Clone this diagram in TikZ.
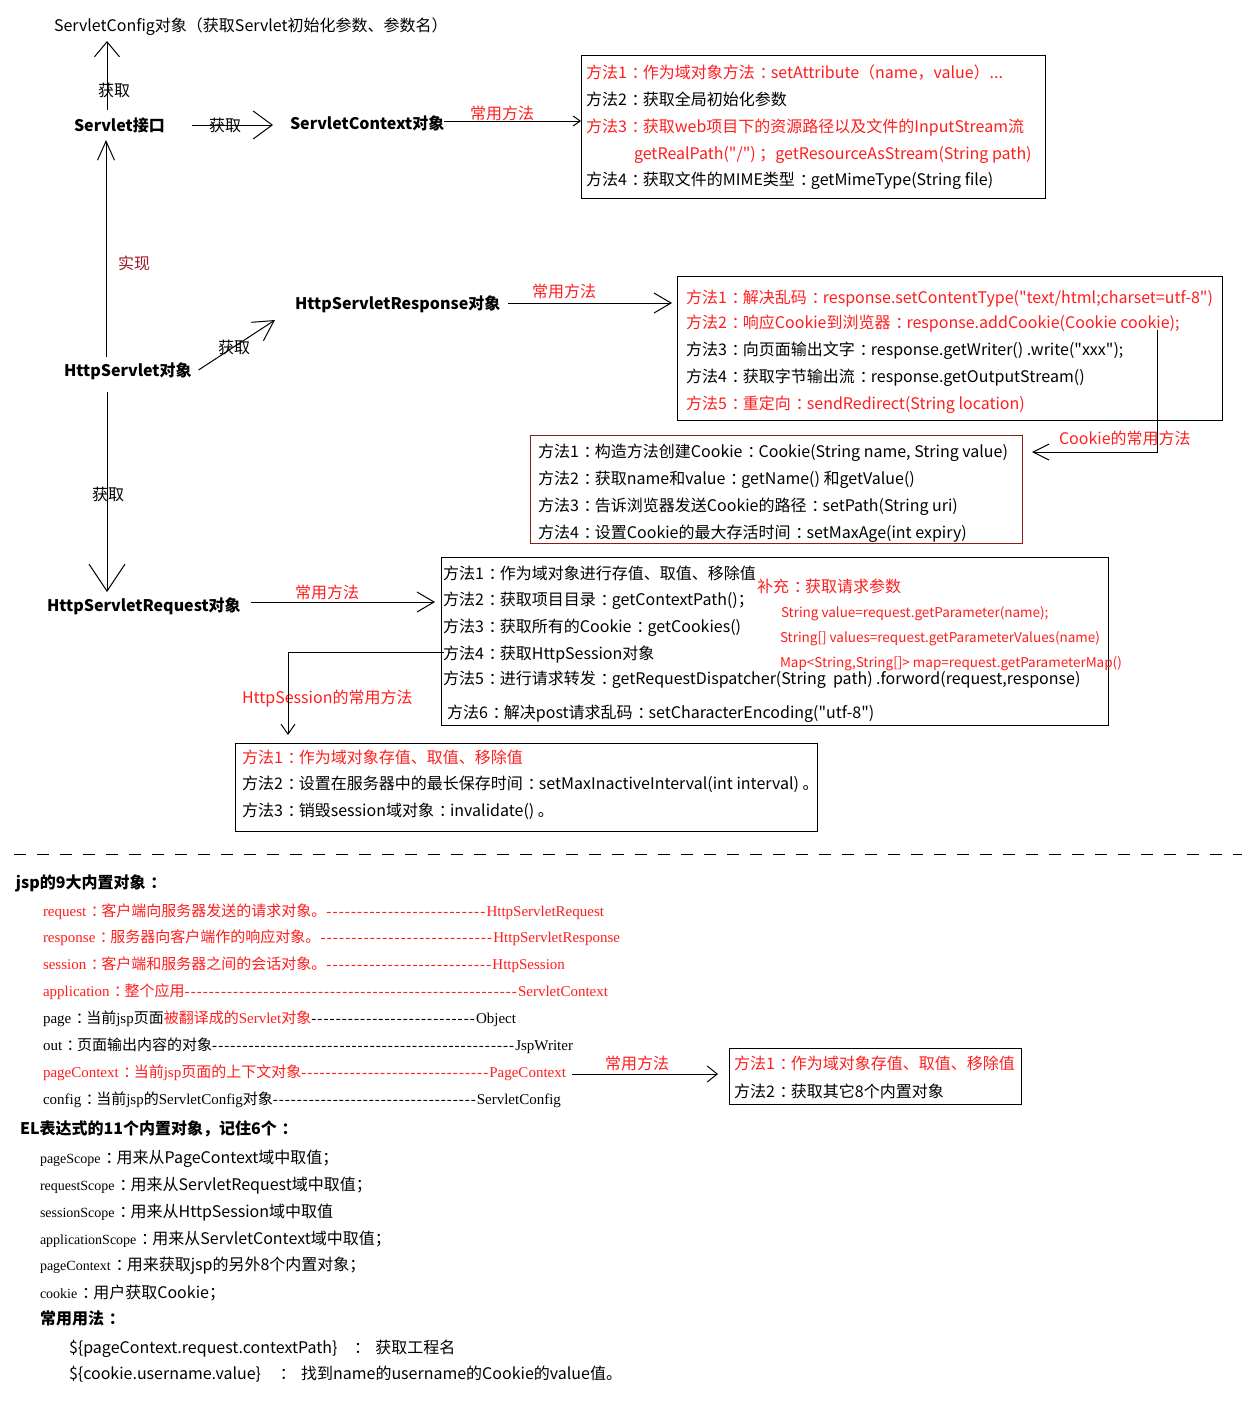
\documentclass[tikz,border=0pt]{standalone}
\usepackage{fontspec}
\setmainfont{Noto Sans CJK SC}[Ligatures=TeXOff]
\newfontfamily\tnr{Liberation Serif}
\usetikzlibrary{arrows.meta,calc}
\definecolor{rd}{HTML}{FF1E1E}
\definecolor{mr}{HTML}{9B1B25}
\definecolor{bx}{HTML}{8B1A1A}
\newcommand\fsz[1]{\fontsize{#1pt}{#1pt}\selectfont}
\newcommand\dashfill{\xleaders\hbox{\tnr -\kern1pt}\hfill}
\newcommand\fwcolon{\makebox[1em][l]{\hspace{0.3em}\char"FF1A\relax}}
\catcode`：=\active
\protected\def：{\fwcolon}
\tikzset{
  ln/.style={line width=1pt, draw=black},
  barb/.style 2 args={-{Straight Barb[length=#1,width=#2]}},
  tx/.style={anchor=west, inner sep=0pt, outer sep=0pt},
  t16/.style={tx, font=\fsz{16}, text height=14.1pt, text depth=1.9pt},
  t15/.style={tx, font=\fsz{15}, text height=13.2pt, text depth=1.8pt},
  t13/.style={tx, font=\fsz{13.5}, text height=11.9pt, text depth=1.6pt},
  b16/.style={t16, font=\fsz{16}\bfseries},
  box/.style={draw, line width=1pt, inner sep=0pt, outer sep=0pt, anchor=north west},
}
\begin{document}
\begin{tikzpicture}[x=1pt,y=-1pt]
\fill[white] (0,0) rectangle (1242,1401);
\useasboundingbox (0,0) rectangle (1242,1401);

% ---------- top part ----------
\node[t16] (cfg) at (54,25) {ServletConfig对象（获取Servlet初始化参数、参数名）};
\node[b16] (sv) at (74,125) {Servlet接口};
\node[t16] (g1) at (98,90) {获取};
\node[t16] (g2) at (209,125) {获取};
\node[b16] (ctx) at (290,123) {ServletContext对象};
\node[t16, rd] (cy1) at (470,113) {常用方法};

\node[box, minimum width=464pt, minimum height=143pt] (b1) at (581,55) {};
\node[t16, rd] (b1a) at (586,72) {方法1：作为域对象方法：setAttribute（name，value）...};
\node[t16] (b1b) at (586,99) {方法2：获取全局初始化参数};
\node[t16, rd] (b1c) at (586,126) {方法3：获取web项目下的资源路径以及文件的InputStream流};
\node[t16, rd] (b1d) at (634,153) {getRealPath("/") ；getResourceAsStream(String path)};
\node[t16] (b1e) at (586,179) {方法4：获取文件的MIME类型：getMimeType(String file)};

\node[t16, mr] (sx) at (118,263) {实现};
\node[b16] (hs) at (64,370) {HttpServlet对象};
\node[t16] (g3) at (218,347) {获取};
\node[b16] (resp) at (295,303) {HttpServletResponse对象};
\node[t16, rd] (cy2) at (532,291) {常用方法};

\node[box, minimum width=545pt, minimum height=144pt] (b2) at (677,276) {};
\node[t16, rd] (b2a) at (686,297) {方法1：解决乱码：response.setContentType("text/html;charset=utf-8")};
\node[t16, rd] (b2b) at (686,322) {方法2：响应Cookie到浏览器：response.addCookie(Cookie cookie);};
\node[t16] (b2c) at (686,349) {方法3：向页面输出文字：response.getWriter() .write("xxx");};
\node[t16] (b2d) at (686,376) {方法4：获取字节输出流：response.getOutputStream()};
\node[t16, rd] (b2e) at (686,403) {方法5：重定向：sendRedirect(String location)};

\node[t16, rd] (ck) at (1059,438) {Cookie的常用方法};
\node[box, draw=bx, minimum width=492pt, minimum height=108pt] (b3) at (530,435) {};
\node[t16] (b3a) at (538,451) {方法1：构造方法创建Cookie：Cookie(String name, String value)};
\node[t16] (b3b) at (538,478) {方法2：获取name和value：getName() 和getValue()};
\node[t16] (b3c) at (538,505) {方法3：告诉浏览器发送Cookie的路径：setPath(String uri)};
\node[t16] (b3d) at (538,532) {方法4：设置Cookie的最大存活时间：setMaxAge(int expiry)};

\node[t16] (g4) at (92,494) {获取};
\node[b16] (req) at (47,605) {HttpServletRequest对象};
\node[t16, rd] (cy3) at (295,592) {常用方法};

\node[box, minimum width=667pt, minimum height=168pt] (b4) at (441,557) {};
\node[t16] (b4a) at (443,573) {方法1：作为域对象进行存值、取值、移除值};
\node[t16] (b4b) at (443,599) {方法2：获取项目目录：getContextPath()；};
\node[t16] (b4c) at (443,626) {方法3：获取所有的Cookie：getCookies()};
\node[t16] (b4d) at (443,653) {方法4：获取HttpSession对象};
\node[t16] (b4e) at (443,678) {方法5：进行请求转发：getRequestDispatcher(String~~path) .forword(request,response)};
\node[t16] (b4f) at (447,712) {方法6：解决post请求乱码：setCharacterEncoding("utf-8")};
\node[t16, rd] (bc) at (757,586) {补充：获取请求参数};
\node[t13, rd] (p1) at (781,612) {String value=request.getParameter(name);};
\node[t13, rd] (p2) at (780,637) {String[] values=request.getParameterValues(name)};
\node[t13, rd] (p3) at (780,662) {Map<String,String[]> map=request.getParameterMap()};

\node[t16, rd] (hsl) at (242,697) {HttpSession的常用方法};
\node[box, minimum width=582pt, minimum height=88pt] (b5) at (235,743) {};
\node[t16, rd] (b5a) at (242,757) {方法1：作为域对象存值、取值、移除值};
\node[t16] (b5b) at (242,783) {方法2：设置在服务器中的最长保存时间：setMaxInactiveInterval(int interval) 。};
\node[t16] (b5c) at (242,810) {方法3：销毁session域对象：invalidate() 。};

% connectors (top)
\draw[ln, barb={15pt}{25pt}] ($(sv.north west)+(33,-7)$) -- ($(cfg.south west)+(53,8)$);
\draw[ln, barb={19pt}{28pt}] ($(sv.east)+(27,0)$) -- ($(ctx.west)+(-17,2)$);
\draw[ln, barb={7pt}{10pt}] ($(ctx.east)+(0,-2)$) -- ($(ctx.east -| b1.west)+(0,-2)$);
\draw[ln, barb={19pt}{17pt}] ($(hs.north west)+(42,-5)$) -- ($(sv.south west)+(32,7)$);
\draw[ln, barb={20pt}{22pt}] ($(hs.east)+(7,0)$) -- ($(resp.west)+(-20,17)$);
\draw[ln, barb={17pt}{20pt}] ($(resp.east)+(8,0)$) -- ($(resp.east -| b2.west)+(-5,0)$);
\draw[ln, barb={16pt}{16pt}] ($(b2.north west)+(480,54)$) |- ($(b3.north east)+(10,17)$);
\draw[ln, barb={27pt}{36pt}] ($(hs.south west)+(43,14)$) -- ($(req.north west)+(60,-5)$);
\draw[ln, barb={17pt}{20pt}] ($(req.east)+(10,-3)$) -- ($(req.east -| b4.west)+(-6,-3)$);
\draw[ln, barb={10pt}{14pt}] ($(b4.north west)+(3,95)$) -| ($(b5.north west)+(53,-8)$);

% dashed separator
\coordinate (dl1) at (14,854);
\coordinate (dl2) at (1242,854);
\draw[ln, dash pattern=on 12pt off 11pt] (dl1) -- (dl2);

% ---------- jsp part ----------
\node[b16] (jh) at (16,882) {jsp的9大内置对象：};
\node[t15, rd] (j1) at (43,911) {\hbox to 561pt{{\tnr request}：客户端向服务器发送的请求对象。\dashfill{\tnr HttpServletRequest}}};
\node[t15, rd] (j2) at (43,937) {\hbox to 577pt{{\tnr response}：服务器向客户端作的响应对象。\dashfill{\tnr HttpServletResponse}}};
\node[t15, rd] (j3) at (43,964) {\hbox to 522pt{{\tnr session}：客户端和服务器之间的会话对象。\dashfill{\tnr HttpSession}}};
\node[t15, rd] (j4) at (43,991) {\hbox to 565pt{{\tnr application}：整个应用\dashfill{\tnr ServletContext}}};
\node[t15] (j5) at (43,1018) {\hbox to 473pt{{\tnr page}：当前{\tnr jsp}页面{\color{rd}被翻译成的{\tnr Servlet}对象}\dashfill{\tnr Object}}};
\node[t15] (j6) at (43,1045) {\hbox to 530pt{{\tnr out}：页面输出内容的对象\dashfill{\tnr JspWriter}}};
\node[t15, rd] (j7) at (43,1072) {\hbox to 523pt{{\tnr pageContext}：当前{\tnr jsp}页面的上下文对象\dashfill{\tnr PageContext}}};
\node[t15] (j8) at (43,1099) {\hbox to 518pt{{\tnr config}：当前{\tnr jsp}的{\tnr ServletConfig}对象\dashfill{\tnr ServletConfig}}};

\node[t16, rd] (cy4) at (605,1063) {常用方法};
\node[box, minimum width=292pt, minimum height=56pt] (b6) at (729,1048) {};
\node[t16, rd] (b6a) at (734,1063) {方法1：作为域对象存值、取值、移除值};
\node[t16] (b6b) at (734,1091) {方法2：获取其它8个内置对象};
\draw[ln, barb={10pt}{16pt}] ($(j7.east)+(6,2)$) -- ($(j7.east -| b6.west)+(-11,2)$);

% ---------- EL part ----------
\node[b16] (eh) at (20,1128) {EL表达式的11个内置对象，记住6个：};
\node[t16] (e1) at (40,1157) {{\tnr\fsz{14}pageScope}：用来从PageContext域中取值；};
\node[t16] (e2) at (40,1184) {{\tnr\fsz{14}requestScope}：用来从ServletRequest域中取值；};
\node[t16] (e3) at (40,1211) {{\tnr\fsz{14}sessionScope}：用来从HttpSession域中取值};
\node[t16] (e4) at (40,1238) {{\tnr\fsz{14}applicationScope}：用来从ServletContext域中取值；};
\node[t16] (e5) at (40,1264) {{\tnr\fsz{14}pageContext}：用来获取jsp的另外8个内置对象；};
\node[t16] (e6) at (40,1292) {{\tnr\fsz{14}cookie}：用户获取Cookie；};
\node[b16] (eu) at (40,1318) {常用用法：};
\node[t16] (u1) at (69,1347) {\$\{pageContext.request.contextPath\}\hspace{12pt}：\hspace{10pt}获取工程名};
\node[t16] (u2) at (69,1373) {\$\{cookie.username.value\}\hspace{14pt}：\hspace{10pt}找到name的username的Cookie的value值。};
\end{tikzpicture}
\end{document}
